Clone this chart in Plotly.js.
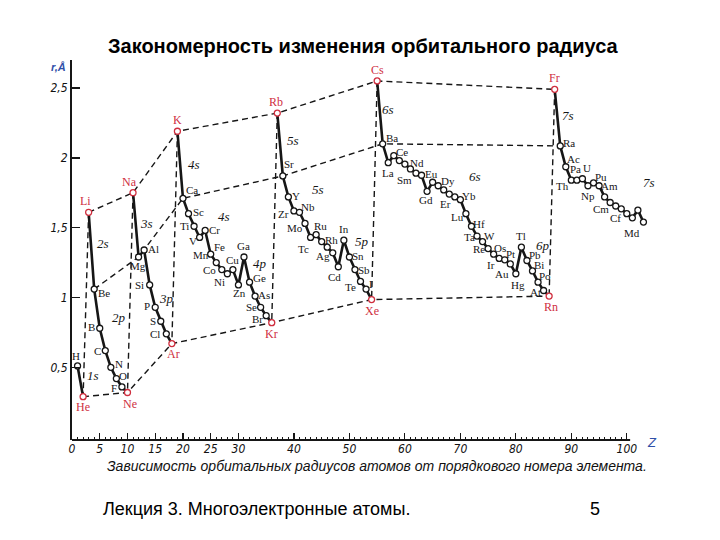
<!DOCTYPE html>
<html><head><meta charset="utf-8">
<script src="https://cdn.plot.ly/plotly-3.0.1.min.js"></script>
<style>body{margin:0;background:#fff}#chart{width:720px;height:540px}</style>
</head><body><div id="chart"></div>
<script>
// ---------- DATA ----------
const symbols = ['H','He','Li','Be','B','C','N','O','F','Ne',
 'Na','Mg','Al','Si','P','S','Cl','Ar',
 'K','Ca','Sc','Ti','V','Cr','Mn','Fe','Co','Ni','Cu','Zn','Ga','Ge','As','Se','Br','Kr',
 'Rb','Sr','Y','Zr','Nb','Mo','Tc','Ru','Rh','Pd','Ag','Cd','In','Sn','Sb','Te','I','Xe',
 'Cs','Ba','La','Ce','Pr','Nd','Pm','Sm','Eu','Gd','Tb','Dy','Ho','Er','Tm','Yb','Lu',
 'Hf','Ta','W','Re','Os','Ir','Pt','Au','Hg','Tl','Pb','Bi','Po','At','Rn',
 'Fr','Ra','Ac','Th','Pa','U','Np','Pu','Am','Cm','Bk','Cf','Es','Fm','Md','No','Lr'];
const atomicNumber = [1,2,3,4,5,6,7,8,9,10,
 11,12,13,14,15,16,17,18,
 19,20,21,22,23,24,25,26,27,28,29,30,31,32,33,34,35,36,
 37,38,39,40,41,42,43,44,45,46,47,48,49,50,51,52,53,54,
 55,56,57,58,59,60,61,62,63,64,65,66,67,68,69,70,71,
 72,73,74,75,76,77,78,79,80,81,82,83,84,85,86,
 87,88,89,90,91,92,93,94,95,96,97,98,99,100,101,102,103];
const radius = [0.51,0.29,1.61,1.06,0.78,0.62,0.50,0.42,0.36,0.32,
 1.75,1.29,1.34,1.09,0.93,0.83,0.74,0.67,
 2.19,1.71,1.60,1.51,1.43,1.48,1.31,1.25,1.20,1.17,1.20,1.09,1.29,1.11,1.01,0.93,0.87,0.82,
 2.32,1.87,1.72,1.62,1.61,1.53,1.43,1.45,1.40,1.36,1.32,1.22,1.41,1.29,1.20,1.115,1.06,0.985,
 2.55,2.10,1.965,2.015,1.98,1.955,1.92,1.89,1.875,1.76,1.825,1.80,1.77,1.74,1.72,1.70,1.60,
 1.51,1.44,1.40,1.35,1.31,1.28,1.27,1.24,1.17,1.36,1.265,1.19,1.11,1.05,1.01,
 2.49,2.085,1.936,1.84,1.84,1.85,1.80,1.82,1.80,1.72,1.68,1.655,1.635,1.60,1.57,1.625,1.54];
const nobleGases = ['He','Ne','Ar','Kr','Xe','Rn'];
const alkaliMetals = ['Li','Na','K','Rb','Cs','Fr'];
const alkalineEarths = ['Be','Mg','Ca','Sr','Ba','Ra'];
const unlabeled = ['Pd','Pr','Pm','Tb','Ho','Tm','Bk','Es','Fm','No','Lr'];
const orbitalText = ['1s','2s','2p','3s','3p','4s','4s','4p','5s','5s','5p','6s','6s','6p','7s','7s'];
const orbitalZ =    [3.8, 5.5, 8.5, 13.4,17.1,22.0,27.4,33.9,39.8,44.4,52.3,57.0,72.6,84.9,89.4,104.0];
const orbitalR =    [0.44,1.39,0.86,1.53,0.99,1.955,1.58,1.24,2.127,1.774,1.40,2.347,1.864,1.375,2.306,1.821];
const xTickValues = [0,5,10,15,20,25,30,40,50,60,70,80,90,100];
const yTickValues = [0.5,1,1.5,2,2.5];
const yTickText = ['0,5','1','1,5','2','2,5'];

// ---------- STYLE / LAYOUT ----------
const RED = '#cf2f3f', INK = '#161616', BLUE = '#2f4fa8';
const labelShift = {
 H:[-2,10],He:[0,-10],Li:[-3,11],Be:[10,-4],B:[-8,1],C:[-8,0],N:[8,3],O:[7,3],F:[-8,-1],Ne:[3,-11],
 Na:[-4,11],Mg:[-1,-9],Al:[9,1],Si:[-10,0],P:[-8,1],S:[-8,0],Cl:[-11,0],Ar:[2,-10],
 K:[0,11],Ca:[9,8],Sc:[10,2],Ti:[-10,0],V:[-7,-4],Cr:[9,0],Mn:[-10,-1],Fe:[3,16],Co:[-12,0],Ni:[-8,-8],
 Cu:[0,10],Zn:[1,-8],Ga:[0,11],Ge:[10,4],As:[9,1],Se:[-9,0],Br:[-9,-3],Kr:[0,-11],
 Rb:[-1,11],Sr:[6,12],Y:[8,1],Zr:[-10,-3],Nb:[9,5],Mo:[-10,-5],Tc:[-7,-12],Ru:[4,9],Rh:[10,2],
 Ag:[-10,-3],Cd:[-4,-10],In:[0,11],Sn:[9,1],Sb:[9,0],Te:[-10,-6],I:[5,5],Xe:[0,-11],
 Cs:[0,11],Ba:[9,6],La:[0,-10],Ce:[8,4],Nd:[12,1],Sm:[-11,-7],Eu:[10,1],Gd:[-1,-9],Dy:[10,5],
 Er:[-4,-10],Yb:[9,4],Lu:[-8,-3],Hf:[8,2],Ta:[-8,-1],W:[7,6],Re:[-9,0],Os:[6,6],Ir:[-8,-7],
 Pt:[6,6],Au:[-8,-10],Hg:[2,-11],Tl:[0,11],Pb:[8,5],Bi:[7,6],Po:[7,6],At:[-8,-1],Rn:[2,-11],
 Fr:[0,11],Ra:[9,3],Ac:[8,8],Th:[-9,-6],Pa:[-1,11],U:[5,11],Np:[0,-10],Pu:[7,6],Am:[10,0],
 Cm:[-4,-12],Cf:[0,-12],Md:[0,-15]
};
const idx = s => symbols.indexOf(s);
const isRed = s => nobleGases.includes(s) || alkaliMetals.includes(s);

const traces = [];
// solid shells: from H / each alkali metal to the next noble gas / last element
const starts = ['H', ...alkaliMetals];
const ends = [...nobleGases, 'Lr'];
starts.forEach((s, k) => {
  const a = idx(s), b = idx(ends[k]);
  traces.push({x: atomicNumber.slice(a, b+1), y: radius.slice(a, b+1), mode: 'lines',
    line: {color: INK, width: 2.6}, hoverinfo: 'skip'});
});
// dashed connectors
const dash = {color: INK, width: 1.4, dash: '6px,4px'};
[nobleGases, alkaliMetals, alkalineEarths].forEach(group => {
  traces.push({x: group.map(s => atomicNumber[idx(s)]), y: group.map(s => radius[idx(s)]),
    mode: 'lines', line: dash, hoverinfo: 'skip'});
});
const vx = [], vy = [];
alkaliMetals.forEach((s, k) => {
  vx.push(atomicNumber[idx(s)], atomicNumber[idx(nobleGases[k])], null);
  vy.push(radius[idx(s)], radius[idx(nobleGases[k])], null);
});
traces.push({x: vx, y: vy, mode: 'lines', line: dash, hoverinfo: 'skip'});
// points
traces.push({x: atomicNumber, y: radius, mode: 'markers', text: symbols,
  marker: {size: 6, color: '#fff', line: {width: 1.3, color: symbols.map(s => isRed(s) ? RED : INK)}}});

const annotations = [];
symbols.forEach((s, i) => {
  if (unlabeled.includes(s)) return;
  const sh = labelShift[s] || [0, 10];
  annotations.push({x: atomicNumber[i], y: radius[i], xref: 'x', yref: 'y', text: s, showarrow: false,
    xshift: sh[0], yshift: sh[1], xanchor: 'center', yanchor: 'middle',
    font: {family: 'Liberation Serif, DejaVu Serif, serif', size: isRed(s) ? 12 : 11, color: isRed(s) ? RED : INK}});
});
orbitalText.forEach((t, i) => {
  annotations.push({x: orbitalZ[i], y: orbitalR[i], xref: 'x', yref: 'y', text: t, showarrow: false,
    xanchor: 'center', yanchor: 'middle',
    font: {family: 'Liberation Serif, DejaVu Serif, serif', size: 13, style: 'italic', color: INK}});
});
// page texts
const L = 72, T = 60, PW = 577, PH = 380;
const px = x => (x - L) / PW, py = y => (T + PH - y) / PH;
const pageText = (x, y, text, font, xanchor) => ({xref: 'paper', yref: 'paper', x: px(x), y: py(y), text: text,
  showarrow: false, xanchor: xanchor || 'center', yanchor: 'middle', font: font});
annotations.push(
  pageText(363, 46, '<b>Закономерность изменения орбитального радиуса</b>',
    {family: 'Liberation Sans, Arial, sans-serif', size: 20, color: '#000'}),
  pageText(377, 466, 'Зависимость орбитальных радиусов атомов от порядкового номера элемента.',
    {family: 'Liberation Sans, Arial, sans-serif', size: 14, style: 'italic', color: '#111'}),
  pageText(101, 509, 'Лекция 3. Многоэлектронные атомы.',
    {family: 'Liberation Sans, Arial, sans-serif', size: 18, color: '#000'}, 'left'),
  pageText(595, 509, '5', {family: 'Liberation Sans, Arial, sans-serif', size: 18, color: '#000'}),
  pageText(58, 67, '<b>r,Å</b>',
    {family: 'Liberation Sans Narrow, Liberation Sans, sans-serif', size: 11, style: 'italic', color: BLUE}),
  pageText(652, 442, 'Z', {family: 'Liberation Sans, sans-serif', size: 13, style: 'italic', color: BLUE})
);

const minorVals = [];
for (let z = 0; z <= 100; z++) minorVals.push(z);
const majorVals = [];
for (let z = 0; z <= 100; z += 5) majorVals.push(z);

const tickFont = {family: 'Liberation Sans Narrow, DejaVu Sans Condensed, Liberation Sans, sans-serif', size: 12, style: 'italic', color: '#111'};
const layout = {
  width: 720, height: 540, showlegend: false,
  paper_bgcolor: '#fff', plot_bgcolor: '#fff',
  margin: {l: L, t: T, r: 720 - L - PW, b: 540 - T - PH, pad: 0},
  xaxis: {range: [0, 104], showgrid: false, zeroline: false, showline: false,
    tickmode: 'array', tickvals: majorVals,
    ticktext: majorVals.map(v => xTickValues.includes(v) ? String(v) : ''),
    ticks: 'inside', ticklen: 7, tickwidth: 1.2, tickcolor: INK, tickfont: tickFont,
    minor: {tickmode: 'array', tickvals: minorVals, ticks: 'inside', ticklen: 3, tickwidth: 1, tickcolor: INK}},
  yaxis: {range: [-0.02, 2.70], showgrid: false, zeroline: false, showline: true, linecolor: INK, linewidth: 2,
    tickmode: 'array', tickvals: yTickValues, ticktext: yTickText,
    ticks: 'inside', ticklen: 8, tickwidth: 1.5, tickcolor: INK, tickfont: tickFont},
  shapes: [{type: 'line', xref: 'x', yref: 'paper', x0: 0, x1: 100.6, y0: 0, y1: 0,
    line: {color: INK, width: 2}}],
  annotations: annotations
};
Plotly.newPlot('chart', traces, layout, {displayModeBar: false, staticPlot: true});
</script>
</body></html>
